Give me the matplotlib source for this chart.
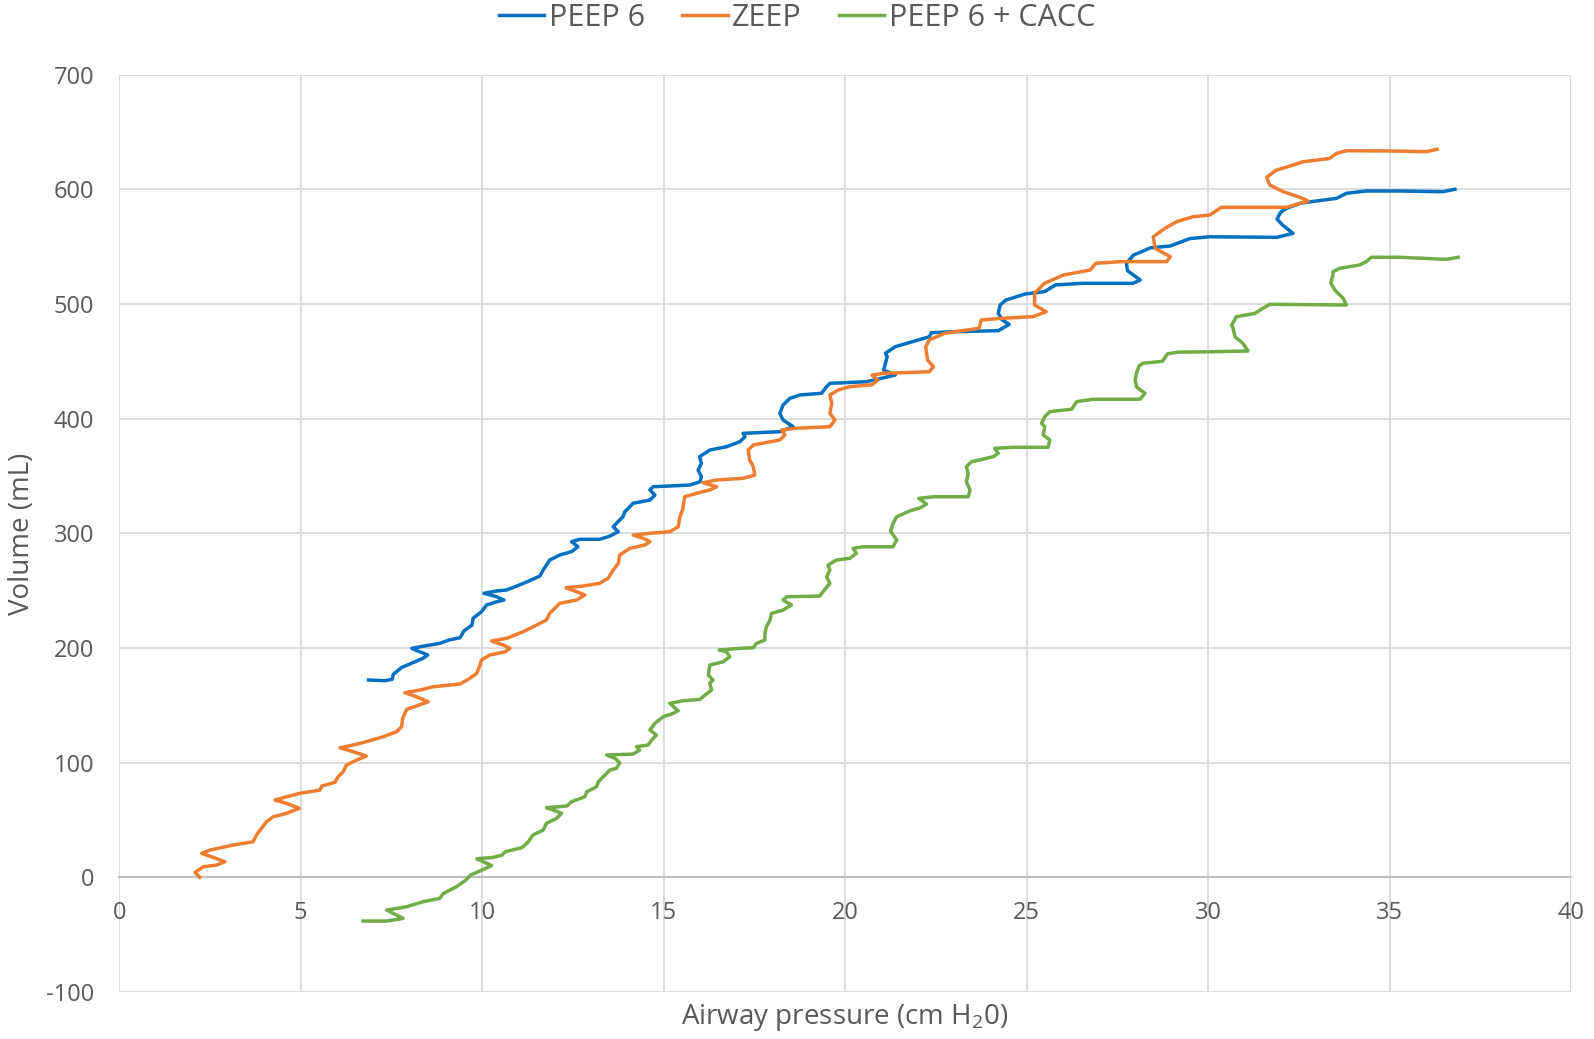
import matplotlib
matplotlib.use('Agg')
import matplotlib.pyplot as plt

# digitised pressure-volume loops (inspiratory limbs)
peep6_x = [6.87, 7.32, 7.52, 7.55, 7.78, 8.15, 8.37, 8.50, 8.28, 8.06, 8.45, 8.83, 9.08, 9.39, 9.50,
           9.72, 9.75, 9.98, 10.12, 10.40, 10.60, 10.40, 10.05, 10.40, 10.67, 10.95, 11.31, 11.59,
           11.68, 11.86, 12.14, 12.46, 12.64, 12.46, 12.69, 13.24, 13.52, 13.75, 13.61, 13.70, 13.88,
           13.93, 14.16, 14.62, 14.76, 14.62, 14.71, 15.72, 16.00, 16.04, 15.95, 16.04, 15.99, 16.27,
           16.73, 17.10, 17.24, 17.19, 18.20, 18.57, 18.29, 18.20, 18.29, 18.48, 18.75, 19.35, 19.49,
           19.58, 20.59, 21.38, 21.06, 21.16, 21.11, 21.38, 22.32, 22.37, 22.96, 24.22, 24.52, 24.33,
           24.22, 24.27, 24.43, 24.96, 25.49, 25.80, 26.54, 27.93, 28.13, 27.78, 27.75, 27.95, 28.42,
           28.95, 29.50, 30.04, 31.90, 32.34, 32.05, 31.90, 32.00, 32.16, 32.56, 33.54, 33.81, 34.36,
           35.28, 36.47, 36.80]
peep6_y = [172.1, 171.5, 172.7, 177.0, 183.0, 188.0, 191.0, 193.9, 196.7, 199.7, 202.0, 204.0, 206.9,
           209.0, 215.0, 220.0, 225.9, 231.6, 237.5, 240.3, 241.8, 244.7, 247.7, 249.7, 250.6, 254.0,
           258.7, 262.8, 268.0, 276.7, 281.1, 284.0, 288.3, 292.7, 294.8, 294.8, 297.6, 301.4, 305.7,
           308.7, 314.5, 318.8, 326.2, 329.0, 333.4, 337.8, 340.6, 342.1, 345.0, 349.3, 355.2, 361.0,
           366.8, 372.6, 375.5, 379.9, 384.2, 387.2, 388.6, 393.0, 398.8, 404.6, 411.9, 417.7, 420.6,
           422.1, 427.9, 430.8, 432.2, 438.0, 442.4, 454.0, 457.0, 462.7, 471.4, 474.9, 475.8, 476.7,
           482.2, 486.0, 491.8, 499.1, 503.4, 508.7, 510.7, 516.6, 518.0, 518.0, 520.9, 529.0, 535.5,
           542.7, 549.0, 550.5, 557.0, 558.6, 558.1, 561.6, 568.9, 574.0, 580.0, 583.4, 588.0, 592.1,
           596.5, 598.5, 598.5, 597.9, 600.0]

zeep_x = [2.22, 2.09, 2.31, 2.68, 2.91, 2.59, 2.27, 2.50, 3.14, 3.69, 3.78, 3.88, 4.06, 4.24, 4.61,
          4.96, 4.61, 4.29, 4.61, 4.98, 5.53, 5.58, 5.94, 6.03, 6.17, 6.26, 6.54, 6.81, 6.45, 6.08,
          6.45, 6.81, 7.27, 7.64, 7.78, 7.81, 7.87, 7.92, 8.19, 8.51, 8.19, 7.87, 8.28, 8.65, 9.39,
          9.66, 9.85, 9.94, 9.98, 10.21, 10.63, 10.76, 10.58, 10.26, 10.67, 11.13, 11.50, 11.77, 11.86,
          12.14, 12.60, 12.83, 12.60, 12.31, 12.78, 13.24, 13.47, 13.61, 13.75, 13.79, 14.07, 14.48,
          14.62, 14.44, 14.16, 14.62, 15.17, 15.40, 15.45, 15.52, 15.58, 15.91, 16.27, 16.46, 16.09,
          16.46, 17.19, 17.51, 17.47, 17.37, 17.33, 17.47, 18.20, 18.34, 18.25, 18.66, 19.58, 19.72,
          19.58, 19.63, 19.58, 19.81, 20.13, 20.74, 20.90, 20.74, 21.06, 22.32, 22.43, 22.27, 22.22,
          22.32, 22.74, 23.69, 23.75, 24.33, 25.17, 25.54, 25.22, 25.22, 25.49, 26.01, 26.75, 26.91,
          27.60, 28.86, 28.96, 28.54, 28.49, 28.81, 29.13, 29.59, 30.05, 30.37, 31.15, 32.16, 32.53,
          32.76, 32.53, 32.07, 31.70, 31.61, 31.88, 32.25, 32.62, 33.35, 33.54, 33.81, 35.00, 36.02,
          36.31]
zeep_y = [0.0, 4.4, 9.2, 10.7, 13.6, 17.4, 20.9, 23.8, 28.2, 31.1, 36.9, 41.2, 48.5, 52.8, 55.8, 60.2,
          64.5, 67.4, 70.3, 73.3, 76.1, 79.6, 82.8, 87.7, 92.1, 97.9, 102.3, 105.8, 109.5, 113.0,
          115.4, 118.3, 122.6, 127.0, 131.3, 138.7, 143.0, 146.5, 149.4, 153.1, 157.5, 161.0, 163.3,
          166.2, 168.6, 173.5, 177.9, 185.1, 189.5, 193.9, 196.7, 199.7, 202.6, 206.1, 208.4, 214.2,
          220.0, 224.4, 230.2, 239.0, 241.8, 246.2, 249.1, 252.5, 254.0, 256.4, 260.8, 268.0, 273.8,
          281.1, 286.9, 289.8, 292.7, 295.6, 298.5, 300.0, 301.4, 305.7, 314.5, 320.3, 331.9, 334.9,
          337.8, 340.6, 344.1, 346.5, 348.0, 350.8, 358.1, 363.9, 372.6, 377.0, 381.4, 385.8, 390.1,
          391.6, 393.0, 398.8, 404.6, 413.4, 420.6, 425.0, 427.9, 429.5, 433.6, 438.0, 439.5, 440.9,
          445.3, 451.1, 462.7, 468.6, 474.4, 478.8, 486.0, 487.5, 488.9, 493.2, 499.1, 509.3, 518.0,
          525.2, 529.6, 535.5, 536.9, 536.9, 541.2, 548.5, 558.6, 565.9, 571.7, 576.1, 577.6, 584.3,
          584.3, 584.3, 587.8, 589.8, 593.0, 597.9, 603.7, 610.4, 616.7, 620.2, 624.0, 626.9, 631.3,
          633.6, 633.4, 632.8, 634.9]

cacc_x = [6.72, 7.37, 7.82, 7.55, 7.37, 7.92, 8.37, 8.83, 8.93, 9.29, 9.55, 9.68, 9.94, 10.26, 10.03,
          9.85, 10.30, 10.55, 10.63, 11.09, 11.27, 11.40, 11.68, 11.77, 12.05, 12.19, 11.96, 11.77,
          12.33, 12.46, 12.83, 12.88, 13.15, 13.20, 13.38, 13.52, 13.70, 13.79, 13.66, 13.43, 14.16,
          14.34, 14.25, 14.57, 14.67, 14.80, 14.62, 14.76, 14.99, 15.22, 15.40, 15.17, 15.54, 16.00,
          16.14, 16.32, 16.27, 16.36, 16.23, 16.27, 16.64, 16.82, 16.73, 16.53, 17.10, 17.47, 17.56,
          17.79, 17.79, 17.83, 17.93, 17.97, 18.29, 18.52, 18.29, 18.39, 19.30, 19.39, 19.58, 19.49,
          19.58, 19.53, 19.76, 20.13, 20.31, 20.22, 20.50, 21.32, 21.42, 21.25, 21.32, 21.42, 21.78,
          22.08, 22.24, 22.03, 22.45, 23.39, 23.44, 23.34, 23.39, 23.34, 23.48, 24.08, 24.22, 24.12,
          24.63, 25.59, 25.64, 25.46, 25.50, 25.41, 25.50, 25.64, 26.24, 26.38, 26.83, 28.12, 28.26,
          28.03, 27.99, 28.03, 28.10, 28.21, 28.74, 28.88, 29.18, 30.05, 31.10, 30.96, 30.74, 30.69,
          30.65, 30.78, 31.29, 31.51, 31.70, 33.81, 33.72, 33.49, 33.38, 33.44, 33.44, 33.63, 34.18,
          34.36, 34.50, 35.28, 36.57, 36.89]
cacc_y = [-38.1, -38.1, -35.8, -31.4, -28.5, -25.6, -21.3, -18.3, -14.0, -8.2, -2.4, 2.0, 5.6, 10.3,
          13.6, 16.2, 17.4, 19.5, 22.3, 25.8, 31.0, 36.9, 41.2, 47.1, 51.5, 55.8, 58.7, 60.7, 62.2,
          65.9, 70.3, 74.6, 79.0, 83.4, 89.2, 93.6, 95.1, 99.9, 103.8, 106.7, 107.5, 111.0, 113.9,
          115.4, 119.7, 124.1, 128.5, 134.3, 140.1, 142.4, 145.3, 151.7, 154.0, 155.2, 159.0, 163.3,
          169.2, 172.1, 176.4, 185.1, 188.0, 192.4, 196.7, 198.2, 199.7, 200.2, 204.1, 206.9, 212.8,
          218.5, 224.4, 230.2, 233.1, 237.5, 241.8, 244.7, 245.3, 249.1, 256.4, 262.1, 268.0, 272.3,
          276.7, 278.2, 282.6, 286.9, 288.3, 288.3, 294.1, 302.0, 308.7, 314.5, 319.5, 322.5, 325.5,
          330.5, 331.9, 331.9, 337.8, 345.0, 352.3, 358.1, 362.4, 366.8, 369.7, 374.1, 375.0, 375.0,
          381.4, 385.8, 393.0, 395.9, 401.7, 406.1, 408.2, 414.8, 416.9, 416.9, 422.1, 427.5, 434.0,
          440.0, 446.0, 448.3, 450.0, 456.5, 458.0, 458.3, 459.0, 465.6, 471.4, 478.8, 481.6, 488.9,
          491.8, 496.2, 499.7, 499.1, 504.9, 512.2, 518.5, 525.2, 528.1, 531.1, 534.0, 537.0, 540.7,
          540.7, 538.9, 540.7]

plt.rcParams['font.family'] = ['Open Sans', 'DejaVu Sans']
plt.rcParams['mathtext.default'] = 'regular'
plt.rcParams['axes.unicode_minus'] = False

fig = plt.figure(figsize=(15.94, 10.39), dpi=100)
ax = fig.add_axes([0.0748, 0.0452, 0.9108, 0.883])

ax.plot(peep6_x, peep6_y, color='#0070C0', lw=2.5, label='PEEP 6', solid_joinstyle='round')
ax.plot(zeep_x, zeep_y, color='#ED7D31', lw=2.5, label='ZEEP', solid_joinstyle='round')
ax.plot(cacc_x, cacc_y, color='#70AD47', lw=2.5, label='PEEP 6 + CACC', solid_joinstyle='round')

ax.set_xlim(0, 40)
ax.set_ylim(-100, 700)
ax.set_xticks(range(0, 41, 5))
ax.set_yticks(range(-100, 701, 100))
ax.grid(True, color='#d9d9d9', lw=1.3)
ax.set_axisbelow(True)

for s in ['top', 'right', 'left']:
    ax.spines[s].set_visible(False)
ax.spines['bottom'].set_position(('data', 0))
ax.spines['bottom'].set_color('#bfbfbf')
ax.spines['bottom'].set_linewidth(1.6)
ax.spines['bottom'].set_zorder(1)

ax.tick_params(axis='both', length=0, labelsize=17, labelcolor='#595959')
ax.tick_params(axis='x', pad=17)
ax.tick_params(axis='y', pad=18)

fig.text(0.0135, 0.486, 'Volume (mL)', fontsize=20, color='#595959',
         rotation=90, ha='center', va='center')
fig.text(0.53, 0.021, 'Airway pressure (cm H$_2$0)', fontsize=20, color='#595959',
         ha='center', va='center')

fig.legend(loc='center', bbox_to_anchor=(0.5, 0.983), ncol=3, frameon=False,
           fontsize=22, handlelength=1.5, handletextpad=0.15, columnspacing=1.2,
           labelcolor='#595959')

plt.savefig('out.png', dpi=100)
